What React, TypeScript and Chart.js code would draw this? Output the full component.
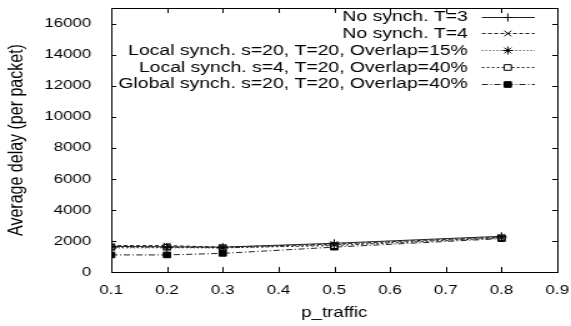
import React, { useEffect, useRef } from 'react';
import { Chart, registerables } from 'chart.js';

Chart.register(...registerables);

// ---- data ----
const pTraffic = [0.1, 0.2, 0.3, 0.5, 0.8];
const noSynchT3 = [1650, 1620, 1600, 1850, 2300];
const noSynchT4 = [1700, 1700, 1600, 1800, 2250];
const localS20 = [1550, 1560, 1550, 1750, 2200];
const localS4 = [1600, 1600, 1560, 1700, 2200];
const globalS20 = [1100, 1100, 1200, 1600, 2150];
const seriesLabels = [
  'No synch. T=3',
  'No synch. T=4',
  'Local synch. s=20, T=20, Overlap=15%',
  'Local synch. s=4, T=20, Overlap=40%',
  'Global synch. s=20, T=20, Overlap=40%',
];
const xTickValues = [0.1, 0.2, 0.3, 0.4, 0.5, 0.6, 0.7, 0.8, 0.9];
const yTickValues = [0, 2000, 4000, 6000, 8000, 10000, 12000, 14000, 16000];
const xMin = 0.1;
const xMax = 0.9;
const yMin = 0;
const yMax = 17000;

// ---- layout ----
const W = 571;
const H = 326;
const STRETCH = 1.25;
const CW = Math.round(W / STRETCH);
const FONT = '"Liberation Sans", Arial, Helvetica, sans-serif';

const styles = [
  { dash: [] as number[], marker: 'cross', fill: '#000' },
  { dash: [3, 2], marker: 'crossRot', fill: '#000' },
  { dash: [1, 2], marker: 'star', fill: '#000' },
  { dash: [2, 2], marker: 'rect', fill: '#fff' },
  { dash: [5, 2, 1, 2], marker: 'rect', fill: '#000' },
];
const seriesValues = [noSynchT3, noSynchT4, localS20, localS4, globalS20];

function drawMarker(ctx: CanvasRenderingContext2D, style: string, fill: string, x: number, y: number, r: number) {
  ctx.save();
  ctx.setLineDash([]);
  ctx.lineWidth = 1;
  ctx.strokeStyle = '#000';
  ctx.fillStyle = fill;
  ctx.beginPath();
  if (style === 'cross' || style === 'star') {
    ctx.moveTo(x - r, y); ctx.lineTo(x + r, y);
    ctx.moveTo(x, y - r); ctx.lineTo(x, y + r);
  }
  if (style === 'crossRot' || style === 'star') {
    const d = r * Math.SQRT1_2;
    ctx.moveTo(x - d, y - d); ctx.lineTo(x + d, y + d);
    ctx.moveTo(x - d, y + d); ctx.lineTo(x + d, y - d);
  }
  if (style === 'rect') {
    const s = r * Math.SQRT1_2;
    ctx.rect(x - s, y - s, 2 * s, 2 * s);
    ctx.fill();
  }
  ctx.stroke();
  ctx.restore();
}

const framePlugin = {
  id: 'gnuFrame',
  afterDraw(chart: any) {
    const { ctx, chartArea: a, scales } = chart;
    ctx.save();
    ctx.strokeStyle = '#000';
    ctx.lineWidth = 1;
    ctx.setLineDash([]);
    ctx.strokeRect(Math.round(a.left) + 0.5, Math.round(a.top) + 0.5, Math.round(a.right - a.left), Math.round(a.bottom - a.top));
    ctx.beginPath();
    const tl = 5;
    for (const t of scales.x.ticks) {
      const px = Math.round(scales.x.getPixelForValue(t.value)) + 0.5;
      ctx.moveTo(px, a.bottom); ctx.lineTo(px, a.bottom - tl);
      ctx.moveTo(px, a.top); ctx.lineTo(px, a.top + tl);
    }
    for (const t of scales.y.ticks) {
      const py = Math.round(scales.y.getPixelForValue(t.value)) + 0.5;
      ctx.moveTo(a.left, py); ctx.lineTo(a.left + tl / STRETCH, py);
      ctx.moveTo(a.right, py); ctx.lineTo(a.right - tl / STRETCH, py);
    }
    ctx.stroke();

    // legend
    const textRight = 468 / STRETCH;
    const lineL = 482 / STRETCH;
    const lineR = 535 / STRETCH;
    const mx = 508 / STRETCH;
    ctx.font = `15.5px ${FONT}`;
    ctx.textAlign = 'right';
    ctx.textBaseline = 'middle';
    ctx.fillStyle = '#000';
    chart.data.datasets.forEach((ds: any, i: number) => {
      const y = 16.5 + i * 16.8;
      ctx.fillText(ds.label, textRight, y + 0.5);
      ctx.save();
      ctx.strokeStyle = '#222';
      ctx.lineWidth = 1;
      ctx.setLineDash(styles[i].dash);
      ctx.beginPath();
      ctx.moveTo(lineL, Math.round(y) + 0.5);
      ctx.lineTo(lineR, Math.round(y) + 0.5);
      ctx.stroke();
      ctx.restore();
      drawMarker(ctx, styles[i].marker, styles[i].fill, mx, Math.round(y) + 0.5, 4);
    });
    ctx.restore();
  },
};

export default function App() {
  const ref = useRef<HTMLCanvasElement>(null);
  useEffect(() => {
    document.body.style.margin = '0';
    const canvas = ref.current!;
    const datasets = seriesValues.map((vals, i) => ({
      label: seriesLabels[i],
      data: pTraffic.map((x, j) => ({ x, y: vals[j] })),
      borderColor: '#222',
      borderWidth: 1,
      borderDash: styles[i].dash,
      pointStyle: styles[i].marker,
      pointRadius: 4,
      pointBorderWidth: 1,
      pointBorderColor: '#000',
      pointBackgroundColor: styles[i].fill,
      fill: false,
      tension: 0,
    }));
    const chart = new Chart(canvas, {
      type: 'line',
      data: { datasets },
      plugins: [framePlugin],
      options: {
        animation: false,
        responsive: false,
        devicePixelRatio: 1,
        layout: { padding: { left: 0, top: 8, right: 11, bottom: 0 } },
        plugins: { legend: { display: false }, tooltip: { enabled: false } },
        scales: {
          x: {
            type: 'linear',
            bounds: 'data',
            min: xMin,
            max: xMax,
            grid: { display: false, drawTicks: false },
            border: { display: false },
            afterFit: (s: any) => { s.height = 54; s.paddingLeft = 0; s.paddingRight = 0; },
            afterBuildTicks: (s: any) => {
              s.ticks = xTickValues.map((v) => ({ value: v }));
              s.min = xMin; s.max = xMax;
            },
            ticks: {
              autoSkip: false,
              maxRotation: 0,
              padding: 10,
              color: '#000',
              font: { family: FONT, size: 13.5 },
              callback: (v: any) => Number(v).toFixed(1),
            },
            title: {
              display: true,
              text: 'p_traffic',
              color: '#000',
              font: { family: FONT, size: 15 },
              padding: { top: 0, bottom: 4 },
            },
          },
          y: {
            type: 'linear',
            bounds: 'data',
            min: yMin,
            max: yMax,
            grid: { display: false, drawTicks: false },
            border: { display: false },
            afterFit: (s: any) => { s.width = 89; s.paddingTop = 0; s.paddingBottom = 0; },
            afterBuildTicks: (s: any) => {
              s.ticks = yTickValues.map((v) => ({ value: v }));
              s.min = yMin; s.max = yMax;
            },
            ticks: {
              autoSkip: false,
              padding: 16,
              color: '#000',
              font: { family: FONT, size: 13.5 },
              callback: (v: any) => String(v),
            },
            title: {
              display: true,
              text: 'Average delay (per packet)',
              color: '#000',
              font: { family: FONT, size: 16 },
              padding: { top: 4, bottom: 0 },
            },
          },
        },
      } as any,
    });
    return () => chart.destroy();
  }, []);
  return (
    <div style={{ width: W, height: H, position: 'relative', background: '#fff' }}>
      <canvas ref={ref} width={CW} height={H} style={{ width: `${W}px`, height: `${H}px`, display: 'block' }} />
    </div>
  );
}
